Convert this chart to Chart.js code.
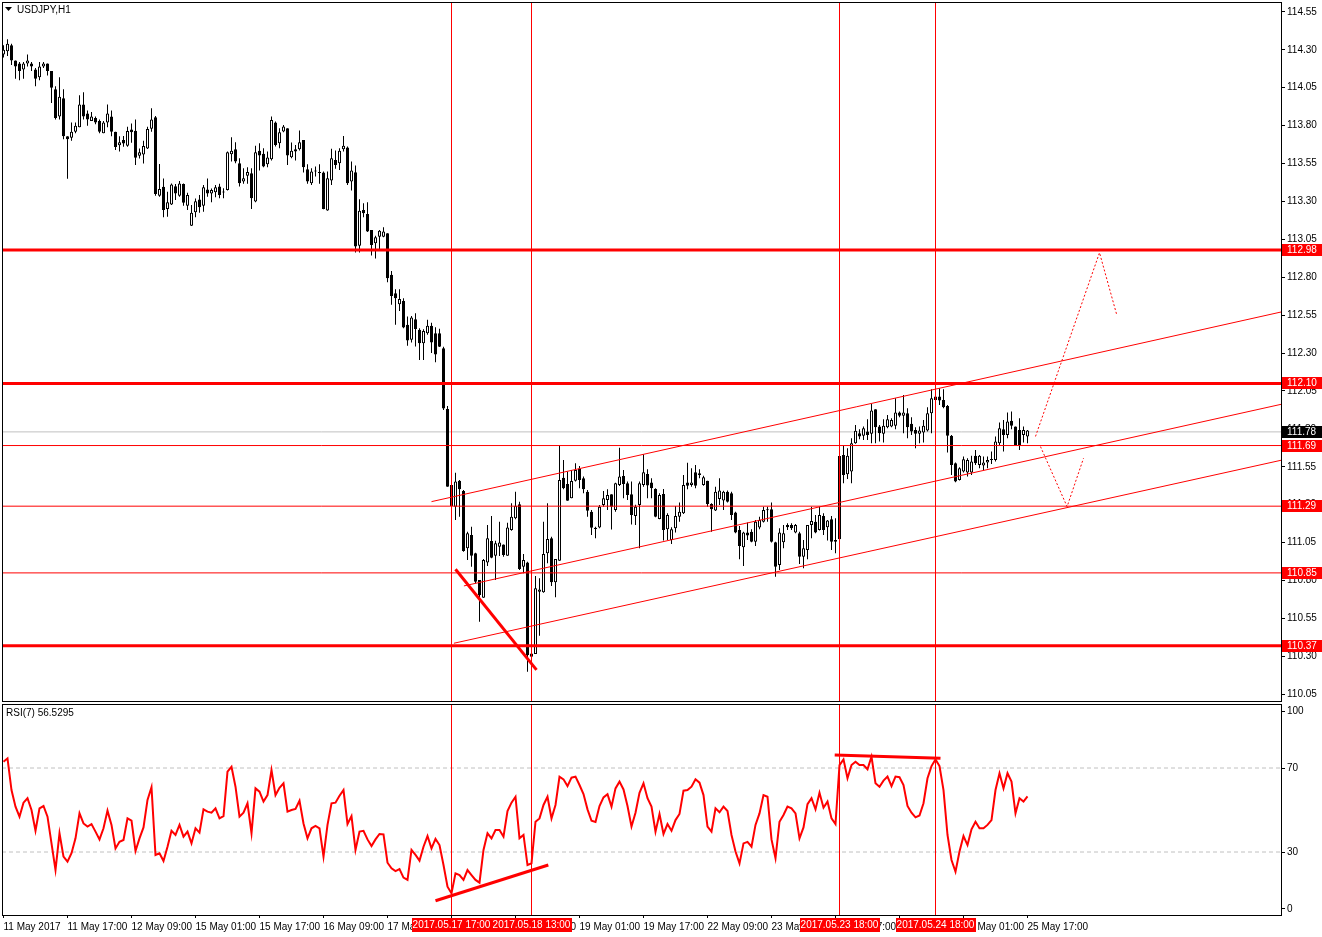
<!DOCTYPE html>
<html>
<head>
<meta charset="utf-8">
<title>USDJPY,H1</title>
<script src="https://cdn.jsdelivr.net/npm/chart.js@4.4.0/dist/chart.umd.min.js"></script>
<style>
  html, body { margin: 0; padding: 0; background: #fff; }
  #wrap { position: relative; width: 1322px; height: 937px; overflow: hidden; background: #fff; }
  #mainChart { position: absolute; left: 0; top: 0; }
  #rsiChart { position: absolute; left: 0; top: 703px; }
</style>
</head>
<body>
<div id="wrap">
  <canvas id="mainChart" width="1322" height="703"></canvas>
  <canvas id="rsiChart" width="1322" height="234"></canvas>
</div>
<script>
// USDJPY H1, 11 May 2017 01:00 .. 25 May 2017 17:00 (bar index 0..256)
const open = [
  114.27, 114.29, 114.33, 114.23, 114.21, 114.17, 114.21, 114.21, 114.17, 114.12,
  114.19, 114.21, 114.16, 114.04, 113.86, 113.98, 113.73, 113.72, 113.76, 113.79,
  113.94, 113.88, 113.83, 113.85, 113.83, 113.75, 113.82, 113.86, 113.76, 113.67,
  113.705, 113.668, 113.775, 113.767, 113.602, 113.61, 113.65, 113.78, 113.855, 113.338,
  113.397, 113.25, 113.28, 113.401, 113.338, 113.415, 113.272, 113.14, 113.228, 113.313,
  113.272, 113.379, 113.353, 113.361, 113.398, 113.365, 113.376, 113.612, 113.645, 113.552,
  113.431, 113.469, 113.486, 113.299, 113.634, 113.614, 113.546, 113.579, 113.82, 113.684,
  113.761, 113.783, 113.592, 113.645, 113.645, 113.706, 113.513, 113.42, 113.504, 113.495,
  113.491, 113.24, 113.438, 113.574, 113.552, 113.645, 113.656, 113.431, 113.493, 113.007,
  113.244, 113.218, 113.112, 113.024, 113.068, 113.068, 113.09, 112.816, 112.695, 112.622,
  112.644, 112.486, 112.387, 112.523, 112.453, 112.365, 112.43, 112.48, 112.43, 112.43,
  112.331, 111.931, 111.43, 111.287, 111.458, 111.39, 111.012, 111.1, 110.979, 110.803,
  110.686, 110.919, 111.06, 110.963, 111.023, 111.038, 110.963, 111.133, 111.21, 111.302,
  110.891, 110.919, 110.319, 110.315, 110.726, 110.722, 110.979, 111.078, 110.788, 110.93,
  111.478, 111.436, 111.342, 111.458, 111.539, 111.474, 111.386, 111.254, 111.148, 111.15,
  111.298, 111.331, 111.368, 111.265, 111.43, 111.489, 111.441, 111.368, 111.225, 111.298,
  111.43, 111.503, 111.446, 111.404, 111.206, 111.371, 111.138, 111.067, 111.144, 111.221,
  111.243, 111.446, 111.43, 111.514, 111.507, 111.43, 111.457, 111.305, 111.261, 111.338,
  111.327, 111.386, 111.375, 111.248, 111.133, 111.019, 111.116, 111.122, 111.056, 111.149,
  111.188, 111.27, 111.27, 111.052, 110.902, 111.052, 111.166, 111.166, 111.116, 111.111,
  110.957, 111.001, 111.166, 111.188, 111.133, 111.226, 111.151, 111.204, 111.067, 111.072,
  111.628, 111.5, 111.518, 111.705, 111.771, 111.754, 111.782, 111.767, 111.929, 111.815,
  111.767, 111.811, 111.815, 111.82, 111.908, 111.886, 111.903, 111.833, 111.793, 111.767,
  111.776, 111.789, 111.903, 112.013, 112.013, 111.991, 111.951, 111.754, 111.573, 111.463,
  111.518, 111.512, 111.512, 111.622, 111.562, 111.558, 111.578, 111.595, 111.595, 111.705,
  111.798, 111.76, 111.853, 111.815, 111.793, 111.76, 111.749
];
const high = [
  114.33, 114.37, 114.34, 114.23, 114.22, 114.22, 114.27, 114.22, 114.18, 114.22,
  114.22, 114.21, 114.16, 114.06, 114.12, 114.04, 113.73, 113.82, 113.82, 114.00,
  114.02, 113.90, 113.89, 113.86, 113.84, 113.83, 113.94, 113.90, 113.76, 113.73,
  113.731, 113.793, 113.815, 113.841, 113.65, 113.70, 113.793, 113.914, 113.863, 113.547,
  113.452, 113.364, 113.419, 113.415, 113.435, 113.419, 113.357, 113.276, 113.32, 113.342,
  113.408, 113.452, 113.386, 113.409, 113.416, 113.387, 113.629, 113.724, 113.691, 113.585,
  113.519, 113.526, 113.519, 113.667, 113.684, 113.651, 113.629, 113.86, 113.827, 113.783,
  113.805, 113.783, 113.689, 113.673, 113.768, 113.706, 113.546, 113.519, 113.53, 113.546,
  113.497, 113.497, 113.647, 113.636, 113.651, 113.732, 113.662, 113.563, 113.537, 113.315,
  113.288, 113.295, 113.112, 113.073, 113.112, 113.13, 113.09, 112.842, 112.721, 112.721,
  112.662, 112.541, 112.545, 112.563, 112.464, 112.457, 112.52, 112.5, 112.47, 112.46,
  112.342, 111.951, 111.511, 111.511, 111.463, 111.397, 111.122, 111.155, 110.983, 110.803,
  110.941, 111.166, 111.225, 111.062, 111.188, 111.038, 111.181, 111.309, 111.386, 111.32,
  110.974, 110.924, 110.341, 110.829, 110.814, 111.188, 111.309, 111.089, 110.941, 111.693,
  111.594, 111.518, 111.528, 111.573, 111.555, 111.485, 111.397, 111.265, 111.155, 111.298,
  111.39, 111.401, 111.368, 111.445, 111.676, 111.528, 111.452, 111.452, 111.3, 111.452,
  111.632, 111.534, 111.474, 111.408, 111.375, 111.404, 111.243, 111.151, 111.292, 111.314,
  111.496, 111.577, 111.54, 111.562, 111.534, 111.49, 111.457, 111.309, 111.419, 111.474,
  111.391, 111.393, 111.386, 111.254, 111.16, 111.122, 111.182, 111.138, 111.199, 111.221,
  111.287, 111.287, 111.314, 111.056, 111.144, 111.166, 111.177, 111.177, 111.173, 111.122,
  111.067, 111.166, 111.287, 111.232, 111.287, 111.243, 111.199, 111.226, 111.21, 111.7,
  111.69, 111.672, 111.738, 111.826, 111.798, 111.815, 111.864, 111.965, 111.929, 111.826,
  111.864, 111.892, 111.87, 112.002, 111.914, 112.024, 111.936, 111.877, 111.811, 111.815,
  111.859, 111.943, 112.061, 112.068, 112.068, 112.061, 111.958, 111.76, 111.578, 111.547,
  111.617, 111.606, 111.622, 111.661, 111.628, 111.617, 111.617, 111.65, 111.749, 111.842,
  111.859, 111.908, 111.914, 111.815, 111.87, 111.815, 111.793
];
const low = [
  114.25, 114.26, 114.20, 114.11, 114.10, 114.11, 114.19, 114.16, 114.06, 114.10,
  114.18, 114.13, 113.95, 113.84, 113.84, 113.71, 113.45, 113.70, 113.75, 113.79,
  113.84, 113.80, 113.83, 113.81, 113.75, 113.75, 113.79, 113.73, 113.64, 113.63,
  113.661, 113.661, 113.687, 113.54, 113.584, 113.551, 113.646, 113.76, 113.338, 113.331,
  113.195, 113.199, 113.276, 113.309, 113.331, 113.272, 113.243, 113.138, 113.195, 113.225,
  113.232, 113.331, 113.294, 113.328, 113.321, 113.321, 113.372, 113.563, 113.552, 113.398,
  113.416, 113.416, 113.251, 113.295, 113.504, 113.526, 113.526, 113.57, 113.662, 113.651,
  113.757, 113.541, 113.585, 113.57, 113.636, 113.491, 113.416, 113.409, 113.464, 113.416,
  113.249, 113.238, 113.409, 113.515, 113.508, 113.629, 113.409, 113.372, 112.963, 112.963,
  113.196, 113.099, 112.943, 112.923, 112.985, 113.064, 112.767, 112.618, 112.486, 112.578,
  112.464, 112.349, 112.369, 112.343, 112.255, 112.255, 112.42, 112.3, 112.24, 112.34,
  111.924, 111.419, 111.287, 111.199, 111.221, 110.99, 110.935, 110.891, 110.781, 110.528,
  110.686, 110.895, 110.946, 110.803, 110.961, 110.957, 110.963, 111.128, 111.203, 110.869,
  110.847, 110.198, 110.209, 110.315, 110.436, 110.719, 110.913, 110.763, 110.689, 110.93,
  111.401, 111.326, 111.342, 111.452, 111.408, 111.375, 111.221, 111.1, 111.078, 111.144,
  111.287, 111.265, 111.137, 111.254, 111.423, 111.342, 111.331, 111.17, 111.166, 111.012,
  111.419, 111.342, 111.342, 111.217, 111.204, 111.063, 111.067, 111.041, 111.116, 111.188,
  111.239, 111.402, 111.419, 111.408, 111.474, 111.424, 111.287, 111.122, 111.259, 111.298,
  111.265, 111.314, 111.199, 111.111, 110.94, 110.896, 111.067, 111.052, 111.028, 111.138,
  111.182, 111.188, 111.05, 110.825, 110.869, 111.012, 111.133, 111.133, 111.111, 110.909,
  110.88, 110.94, 111.078, 111.111, 111.129, 111.1, 111.063, 111.001, 110.979, 111.067,
  111.441, 111.47, 111.441, 111.701, 111.732, 111.727, 111.727, 111.705, 111.705, 111.716,
  111.71, 111.804, 111.811, 111.798, 111.877, 111.771, 111.738, 111.76, 111.672, 111.705,
  111.71, 111.782, 111.771, 111.987, 111.958, 111.936, 111.644, 111.496, 111.448, 111.459,
  111.512, 111.485, 111.496, 111.562, 111.54, 111.529, 111.54, 111.569, 111.584, 111.694,
  111.65, 111.738, 111.798, 111.694, 111.661, 111.71, 111.705
];
const close = [
  114.30, 114.34, 114.23, 114.19, 114.16, 114.21, 114.23, 114.19, 114.11, 114.19,
  114.21, 114.16, 114.05, 113.85, 113.99, 113.73, 113.71, 113.76, 113.80, 113.94,
  113.86, 113.84, 113.86, 113.82, 113.76, 113.82, 113.88, 113.76, 113.66, 113.69,
  113.683, 113.764, 113.756, 113.588, 113.624, 113.665, 113.778, 113.841, 113.349, 113.382,
  113.243, 113.294, 113.412, 113.353, 113.419, 113.291, 113.342, 113.225, 113.302, 113.261,
  113.393, 113.353, 113.375, 113.394, 113.343, 113.359, 113.625, 113.634, 113.563, 113.42,
  113.453, 113.495, 113.321, 113.625, 113.603, 113.53, 113.59, 113.838, 113.673, 113.757,
  113.794, 113.603, 113.634, 113.629, 113.691, 113.526, 113.431, 113.497, 113.497, 113.488,
  113.251, 113.453, 113.585, 113.541, 113.634, 113.667, 113.42, 113.504, 113.003, 113.238,
  113.222, 113.101, 113.013, 113.064, 113.106, 113.101, 112.794, 112.677, 112.662, 112.656,
  112.468, 112.383, 112.534, 112.459, 112.365, 112.446, 112.48, 112.37, 112.29, 112.342,
  111.935, 111.419, 111.291, 111.452, 111.401, 110.994, 111.111, 110.963, 110.792, 110.704,
  110.935, 111.078, 110.95, 111.045, 111.051, 110.968, 111.15, 111.221, 111.293, 110.876,
  110.935, 110.308, 110.297, 110.748, 110.741, 110.974, 111.073, 110.788, 110.941, 111.463,
  111.408, 111.326, 111.456, 111.528, 111.463, 111.401, 111.26, 111.148, 111.139, 111.287,
  111.342, 111.364, 111.287, 111.441, 111.485, 111.436, 111.364, 111.232, 111.287, 111.441,
  111.514, 111.426, 111.408, 111.221, 111.364, 111.133, 111.232, 111.138, 111.226, 111.254,
  111.43, 111.424, 111.446, 111.424, 111.496, 111.481, 111.305, 111.27, 111.386, 111.393,
  111.386, 111.32, 111.232, 111.116, 111.028, 111.116, 111.096, 111.056, 111.188, 111.199,
  111.265, 111.263, 111.056, 110.891, 111.116, 111.111, 111.151, 111.144, 111.166, 110.957,
  111.012, 111.166, 111.193, 111.116, 111.232, 111.133, 111.195, 111.056, 111.056, 111.621,
  111.496, 111.622, 111.705, 111.787, 111.749, 111.804, 111.76, 111.921, 111.811, 111.771,
  111.82, 111.864, 111.859, 111.908, 111.886, 111.908, 111.811, 111.782, 111.767, 111.789,
  111.82, 111.903, 112.002, 111.991, 111.987, 111.943, 111.754, 111.562, 111.452, 111.54,
  111.6, 111.595, 111.584, 111.573, 111.622, 111.578, 111.595, 111.602, 111.716, 111.804,
  111.76, 111.848, 111.82, 111.694, 111.694, 111.793, 111.789
];
const rsi = [
  73.0, 74.6, 59.5, 51.6, 46.8, 53.5, 55.6, 50.0, 40.1, 50.8,
  51.9, 46.8, 34.1, 21.4, 38.9, 27.8, 25.4, 29.4, 36.5, 48.4,
  43.6, 42.1, 43.3, 39.7, 36.0, 41.3, 49.7, 42.9, 31.7, 34.9,
  35.7, 46.0, 44.9, 30.5, 36.5, 41.7, 54.8, 60.8, 28.6, 29.4,
  25.7, 32.5, 40.1, 38.1, 42.9, 37.3, 39.7, 34.1, 41.3, 39.2,
  50.3, 49.2, 48.7, 50.8, 46.0, 47.1, 68.3, 70.6, 61.1, 46.8,
  48.7, 53.2, 38.9, 60.3, 58.7, 54.0, 57.1, 69.0, 57.1, 60.6,
  62.7, 49.2, 50.0, 50.5, 54.4, 43.6, 36.5, 41.3, 42.4, 41.3,
  27.8, 42.9, 53.2, 53.5, 56.8, 59.5, 43.3, 47.1, 31.0, 39.7,
  40.1, 36.0, 32.8, 36.0, 38.6, 38.4, 24.9, 22.2, 20.9, 21.9,
  17.8, 16.7, 31.0, 28.6, 25.9, 32.5, 37.6, 31.7, 36.2, 33.3,
  23.8, 13.5, 10.3, 19.8, 19.0, 16.7, 21.4, 19.0, 16.7, 15.4,
  31.0, 38.9, 36.5, 40.5, 40.5, 37.3, 49.5, 53.5, 56.3, 36.5,
  38.1, 23.8, 24.6, 44.4, 46.0, 52.4, 56.3, 46.0, 52.4, 65.9,
  64.6, 61.4, 65.4, 65.9, 61.9, 57.6, 50.3, 44.9, 44.3, 51.9,
  56.0, 57.5, 51.6, 60.3, 63.5, 59.8, 51.9, 42.1, 48.7, 58.2,
  62.7, 55.6, 51.6, 39.7, 48.1, 38.6, 43.3, 40.1, 45.2, 48.1,
  59.2, 59.5, 61.1, 64.6, 63.0, 57.1, 42.1, 39.7, 50.8, 48.9,
  51.6, 49.5, 38.1, 30.2, 24.6, 34.1, 34.8, 32.5, 42.9, 48.4,
  57.1, 56.3, 36.0, 27.0, 44.4, 47.6, 51.6, 50.8, 48.4, 36.5,
  41.7, 52.8, 55.6, 50.3, 58.2, 51.1, 54.0, 46.0, 43.3, 71.4,
  74.1, 65.1, 71.4, 73.0, 71.4, 71.4, 69.4, 75.4, 62.7, 61.1,
  64.0, 65.9, 61.4, 65.9, 65.6, 61.9, 51.9, 48.7, 46.5, 47.4,
  53.2, 65.1, 70.9, 74.1, 70.9, 59.5, 38.1, 26.2, 20.6, 30.2,
  37.6, 33.3, 40.8, 44.4, 41.3, 41.3, 42.9, 45.2, 59.5, 67.5,
  60.3, 67.5, 63.5, 48.4, 55.6, 54.0, 56.53
];

const priceTicks = [110.05, 110.30, 110.55, 110.80, 111.05, 111.30, 111.55, 111.80, 112.05, 112.30,
                    112.55, 112.80, 113.05, 113.30, 113.55, 113.80, 114.05, 114.30, 114.55];
const thickLevels = [112.98, 112.10, 110.37];
const thinLevels = [111.69, 111.29, 110.85];
const lastPrice = 111.78;
const lastRsi = '56.5295';

// channel and trend lines: [bar1, price1, bar2, price2]
const channelLines = [
  [107, 111.32, 319.75, 112.573],
  [115.1, 110.764, 319.75, 111.964],
  [112.6, 110.386, 319.75, 111.595]
];
const downTrend = [113, 110.874, 133.25, 110.21];
const projUp = [[258, 111.75], [274, 112.962], [278.25, 112.558]];
const projDown = [[259.25, 111.683], [265.9, 111.287], [270, 111.606]];

const rsiTicks = [2.9, 30, 70, 97.1];
const rsiTickLabels = ['0', '30', '70', '100'];
const rsiLevels = [70, 30];
const rsiTrendLines = [[108, 6.8, 136.2, 23.8], [207.8, 76.2, 234.25, 74.6]];

const markerBars = [112, 132, 209, 233];
const markerLabels = ['2017.05.17 17:00', '2017.05.18 13:00', '2017.05.23 18:00', '2017.05.24 18:00'];
const timeTickBars = [0, 16, 32, 48, 64, 80, 96, 112, 128, 144, 160, 176, 192, 208, 224, 240, 256];
const timeTickLabels = ['11 May 2017', '11 May 17:00', '12 May 09:00', '15 May 01:00', '15 May 17:00',
  '16 May 09:00', '17 May 01:00', '17 May 17:00', '18 May 09:00', '19 May 01:00', '19 May 17:00',
  '22 May 09:00', '23 May 01:00', '23 May 17:00', '24 May 09:00', '25 May 01:00', '25 May 17:00'];

const RED = '#ff0000';
const FONT = '"Liberation Sans", Arial, sans-serif';
const FONT_SIZE = 10;
const X_MIN = -0.375, X_MAX = 319.375;   // 4px per bar
const Y_MIN = 110.005, Y_MAX = 114.609;

Chart.defaults.font.family = FONT;
Chart.defaults.font.size = FONT_SIZE;
Chart.defaults.color = '#000';
Chart.defaults.animation = false;

function seg(x1, y1, x2, y2) {
  return [{ x: x1, y: y1 }, { x: x2, y: y2 }];
}
function lineDs(data, color, width, dash, order) {
  return {
    type: 'line', data: data, borderColor: color, borderWidth: width,
    borderDash: dash || [], pointRadius: 0, fill: false, tension: 0, order: order
  };
}

// candles
const bodyData = close.map((c, i) => ({ x: i, y: [open[i], c] }));
const wickData = close.map((c, i) => ({ x: i, y: [low[i], high[i]] }));
const bodyColors = close.map((c, i) => c >= open[i] ? '#ffffff' : '#000000');

const mainDatasets = [
  { type: 'bar', data: bodyData, backgroundColor: bodyColors, borderColor: '#000', borderWidth: 1,
    borderSkipped: false, barThickness: 3, minBarLength: 1, grouped: false, inflateAmount: 0, order: 1 },
  { type: 'bar', data: wickData, backgroundColor: '#000', borderWidth: 0,
    barThickness: 1, grouped: false, inflateAmount: 0, order: 2 },
  lineDs(seg(X_MIN, lastPrice, X_MAX, lastPrice), '#c0c0c0', 1, null, 3)
];
markerBars.forEach(b => mainDatasets.push(lineDs(seg(b, Y_MIN, b, Y_MAX), RED, 1, null, 0)));
thickLevels.forEach(v => mainDatasets.push(lineDs(seg(X_MIN, v, X_MAX, v), RED, 3, null, 0)));
thinLevels.forEach(v => mainDatasets.push(lineDs(seg(X_MIN, v, X_MAX, v), RED, 1, null, 0)));
channelLines.forEach(l => mainDatasets.push(lineDs(seg(l[0], l[1], l[2], l[3]), RED, 1, null, 0)));
mainDatasets.push(lineDs(seg(downTrend[0], downTrend[1], downTrend[2], downTrend[3]), RED, 3, null, 0));
mainDatasets.push(lineDs(projUp.map(p => ({ x: p[0], y: p[1] })), RED, 1, [2, 2], 0));
mainDatasets.push(lineDs(projDown.map(p => ({ x: p[0], y: p[1] })), RED, 1, [2, 2], 0));

const mainDecor = {
  id: 'mainDecor',
  afterDraw(chart) {
    const ctx = chart.ctx;
    const a = chart.chartArea;
    const y = chart.scales.y;
    ctx.save();
    ctx.strokeStyle = '#000';
    ctx.lineWidth = 1;
    ctx.strokeRect(a.left + 0.5, a.top - 0.5, a.right - a.left, a.bottom - a.top + 1);

    // title
    ctx.fillStyle = '#000';
    ctx.beginPath();
    ctx.moveTo(5, 7); ctx.lineTo(12, 7); ctx.lineTo(8.5, 11); ctx.closePath();
    ctx.fill();
    ctx.font = FONT_SIZE + 'px ' + FONT;
    ctx.textBaseline = 'middle';
    ctx.textAlign = 'left';
    ctx.fillText('USDJPY,H1', 17, 10);

    // price boxes on the right axis
    const box = (v, bg) => {
      const py = Math.round(y.getPixelForValue(v));
      ctx.fillStyle = bg;
      ctx.fillRect(a.right + 1, py - 6, 40, 12);
      ctx.fillStyle = '#fff';
      ctx.fillText(v.toFixed(2), a.right + 6, py + 0.5);
    };
    thickLevels.concat(thinLevels).forEach(v => box(v, RED));
    box(lastPrice, '#000');
    ctx.restore();
  }
};

new Chart(document.getElementById('mainChart'), {
  type: 'bar',
  data: { datasets: mainDatasets },
  options: {
    responsive: false,
    events: [],
    layout: { padding: { left: 2, top: 3, right: 0, bottom: 2 } },
    plugins: { legend: { display: false }, tooltip: { enabled: false } },
    scales: {
      x: { type: 'linear', display: false, offset: false, min: X_MIN, max: X_MAX },
      y: {
        type: 'linear', position: 'right', min: Y_MIN, max: Y_MAX,
        afterBuildTicks: ax => { ax.ticks = priceTicks.map(v => ({ value: v })); },
        afterFit: ax => { ax.width = 41; ax.paddingTop = 0; ax.paddingBottom = 0; },
        grid: { drawOnChartArea: false, tickLength: 4, color: '#000' },
        border: { display: false },
        ticks: { autoSkip: false, padding: 2, color: '#000', callback: v => v.toFixed(2) }
      }
    }
  },
  plugins: [mainDecor]
});

// RSI window
const rsiDatasets = [
  lineDs(rsi.map((v, i) => ({ x: i, y: v })), RED, 2, null, 1)
];
rsiLevels.forEach(v => rsiDatasets.push(lineDs(seg(X_MIN, v, X_MAX, v), '#c0c0c0', 1, [4, 3], 5)));
markerBars.forEach(b => rsiDatasets.push(lineDs(seg(b, 0, b, 100), RED, 1, null, 3)));
rsiTrendLines.forEach(l => rsiDatasets.push(lineDs(seg(l[0], l[1], l[2], l[3]), RED, 3, null, 0)));

const rsiDecor = {
  id: 'rsiDecor',
  afterDraw(chart) {
    const ctx = chart.ctx;
    const a = chart.chartArea;
    const x = chart.scales.x;
    ctx.save();
    ctx.strokeStyle = '#000';
    ctx.lineWidth = 1;
    ctx.strokeRect(a.left + 0.5, a.top - 0.5, a.right - a.left, a.bottom - a.top + 1);

    ctx.font = FONT_SIZE + 'px ' + FONT;
    ctx.textBaseline = 'middle';
    ctx.textAlign = 'left';
    ctx.fillStyle = '#000';
    ctx.fillText('RSI(7) ' + lastRsi, 6, 10);

    // marker date boxes on the time axis
    ctx.textAlign = 'center';
    markerBars.forEach((b, k) => {
      const px = x.getPixelForValue(b);
      const w = Math.ceil(ctx.measureText(markerLabels[k]).width) + 2;
      ctx.fillStyle = RED;
      ctx.fillRect(Math.round(px - w / 2), a.bottom + 3, w, 14);
      ctx.fillStyle = '#fff';
      ctx.fillText(markerLabels[k], px, a.bottom + 10.5);
    });
    ctx.restore();
  }
};

new Chart(document.getElementById('rsiChart'), {
  type: 'line',
  data: { datasets: rsiDatasets },
  options: {
    responsive: false,
    events: [],
    layout: { padding: { left: 2, top: 2, right: 0, bottom: 0 } },
    plugins: { legend: { display: false }, tooltip: { enabled: false } },
    scales: {
      x: {
        type: 'linear', offset: false, min: X_MIN, max: X_MAX,
        afterBuildTicks: ax => { ax.ticks = timeTickBars.map(v => ({ value: v })); },
        afterFit: ax => { ax.height = 22; ax.paddingLeft = 0; ax.paddingRight = 0; },
        grid: { drawOnChartArea: false, tickLength: 3, color: '#000' },
        border: { display: false },
        ticks: { autoSkip: false, maxRotation: 0, align: 'start', padding: 3, color: '#000',
                 callback: (v, i) => timeTickLabels[i] }
      },
      y: {
        type: 'linear', position: 'right', min: 0, max: 100,
        afterBuildTicks: ax => { ax.ticks = rsiTicks.map(v => ({ value: v })); },
        afterFit: ax => { ax.width = 41; ax.paddingTop = 0; ax.paddingBottom = 0; },
        grid: { drawOnChartArea: false, tickLength: 4, color: '#000' },
        border: { display: false },
        ticks: { autoSkip: false, padding: 2, color: '#000', callback: (v, i) => rsiTickLabels[i] }
      }
    }
  },
  plugins: [rsiDecor]
});
</script>
</body>
</html>
